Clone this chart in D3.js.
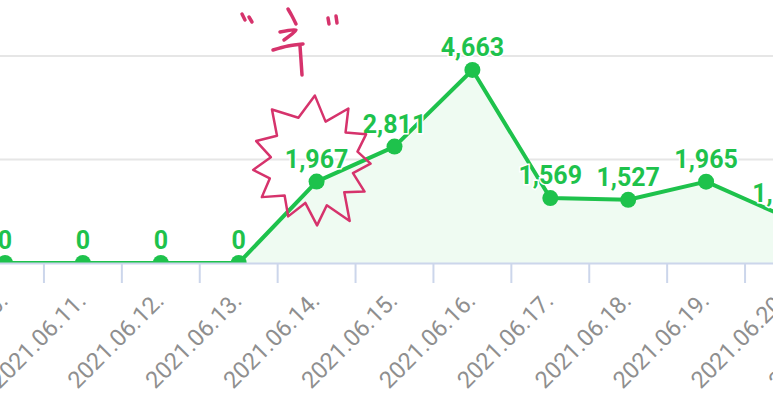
<!DOCTYPE html>
<html>
<head>
<meta charset="utf-8">
<script src="https://cdn.jsdelivr.net/npm/d3@7"></script>
<style>
  html, body { margin: 0; padding: 0; background: #ffffff; }
  svg { display: block; }
</style>
</head>
<body>
<svg id="chart" width="773" height="400"></svg>
<script>
// ---- data ----
const categories = ["2021.06.10.", "2021.06.11.", "2021.06.12.", "2021.06.13.", "2021.06.14.", "2021.06.15.",
                    "2021.06.16.", "2021.06.17.", "2021.06.18.", "2021.06.19.", "2021.06.20.", "2021.06.21."];
const values = [0, 0, 0, 0, 1967, 2811, 4663, 1569, 1527, 1965, 1130, 1100];
const yTicks = [0, 2500, 5000];

// ---- layout ----
const W = 773, H = 400;
const bandW = 77.9;
const firstCenter = 5;
const x0 = firstCenter - bandW / 2;
const baseY = 263, topY = 56;

const svg = d3.select("#chart");
const x = d3.scaleBand().domain(categories).range([x0, x0 + bandW * categories.length]).padding(0);
const y = d3.scaleLinear().domain([0, 5000]).range([baseY, topY]);
const cx = d => x(d) + x.bandwidth() / 2;

const green = "#1ec24c";
const fillGreen = "#effbf2";

// gridlines
svg.append("g").selectAll("line").data(yTicks.filter(t => t > 0)).join("line")
  .attr("x1", 0).attr("x2", W)
  .attr("y1", d => y(d)).attr("y2", d => y(d))
  .attr("stroke", "#e6e6e6").attr("stroke-width", 2);

// clip for plot area
svg.append("defs").append("clipPath").attr("id", "plotclip")
  .append("rect").attr("x", -100).attr("y", 0).attr("width", W + 200).attr("height", baseY);

const plot = svg.append("g").attr("clip-path", "url(#plotclip)");
const pts = categories.map((c, i) => ({ c, v: values[i] }));

plot.append("path").datum(pts)
  .attr("d", d3.area().x(d => cx(d.c)).y0(y(0)).y1(d => y(d.v)))
  .attr("fill", fillGreen);

plot.append("path").datum(pts)
  .attr("d", d3.line().x(d => cx(d.c)).y(d => y(d.v)))
  .attr("fill", "none").attr("stroke", green).attr("stroke-width", 4)
  .attr("stroke-linejoin", "round");

plot.append("g").selectAll("circle").data(pts).join("circle")
  .attr("cx", d => cx(d.c)).attr("cy", d => y(d.v)).attr("r", 8)
  .attr("fill", green);

// x axis
const axisG = svg.append("g").attr("transform", `translate(0,${baseY})`);
axisG.append("line").attr("x1", 0).attr("x2", W).attr("y1", 0.5).attr("y2", 0.5)
  .attr("stroke", "#ccd6eb").attr("stroke-width", 2);
axisG.append("g").selectAll("line").data(categories).join("line")
  .attr("x1", d => x(d)).attr("x2", d => x(d))
  .attr("y1", 0).attr("y2", 20)
  .attr("stroke", "#ccd6eb").attr("stroke-width", 2);

const labG = axisG.append("g").call(
  d3.axisBottom(d3.scalePoint().domain(categories).range([cx(categories[0]), cx(categories[categories.length - 1])]))
    .tickSize(0).tickPadding(0)
);
labG.select(".domain").remove();
labG.selectAll("text")
  .attr("x", 0).attr("y", 0).attr("dy", 0)
  .attr("text-anchor", "end")
  .attr("transform", "translate(4,39) rotate(-45)")
  .attr("fill", "#8f8f8f")
  .style("font-family", "Roboto, 'Noto Sans', sans-serif")
  .style("font-size", "23.5px");

// data labels
const fmt = d3.format(",");
svg.append("g").selectAll("text").data(pts).join("text")
  .attr("x", d => cx(d.c)).attr("y", d => y(d.v) - 14)
  .attr("text-anchor", "middle")
  .attr("fill", green)
  .attr("stroke", "#ffffff").attr("stroke-width", 3).attr("paint-order", "stroke")
  .style("font-family", "Roboto, 'Noto Sans', sans-serif")
  .style("font-size", "25px").style("font-weight", "bold")
  .text(d => fmt(d.v));

// ---- hand-drawn annotation (decoration) ----
const pink = "#d6336c";
const starCenter = [cx(categories[4]) - 4, y(values[4]) - 20];
const starOuter = [[-88, 66], [-56, 64], [-27, 60], [2, 58], [30, 60], [58, 70], [86, 64], [114, 60], [145, 62], [172, 60], [200, 60], [232, 66]];
const starPts = [];
starOuter.forEach((p, i) => {
  const next = starOuter[(i + 1) % starOuter.length];
  let a2 = next[0]; if (a2 < p[0]) a2 += 360;
  const mid = (p[0] + a2) / 2;
  starPts.push([p[0], p[1]]);
  starPts.push([mid, 42 + (i % 3) * 2]);
});
const rad = a => a * Math.PI / 180;
svg.append("path")
  .attr("d", d3.line().curve(d3.curveLinearClosed)(starPts.map(([a, r]) => [starCenter[0] + r * Math.cos(rad(a)), starCenter[1] + r * Math.sin(rad(a))])))
  .attr("fill", "none").attr("stroke", pink).attr("stroke-width", 2.5).attr("stroke-linejoin", "round");

const strokes = [
  [[242, 14], [245, 20]],
  [[249, 17], [252, 22]],
  [[288, 9], [292, 16], [296, 24]],
  [[280, 32], [296, 30], [284, 40]],
  [[273, 50], [288, 46], [303, 44]],
  [[300, 46], [301, 60], [302, 75]],
  [[328, 18], [329, 24]],
  [[336, 16], [337, 23]]
];
svg.append("g").selectAll("path").data(strokes).join("path")
  .attr("d", d => d3.line().curve(d3.curveCatmullRom)(d))
  .attr("fill", "none").attr("stroke", pink).attr("stroke-width", 3.5).attr("stroke-linecap", "round").attr("stroke-linejoin", "round");
</script>
</body>
</html>
